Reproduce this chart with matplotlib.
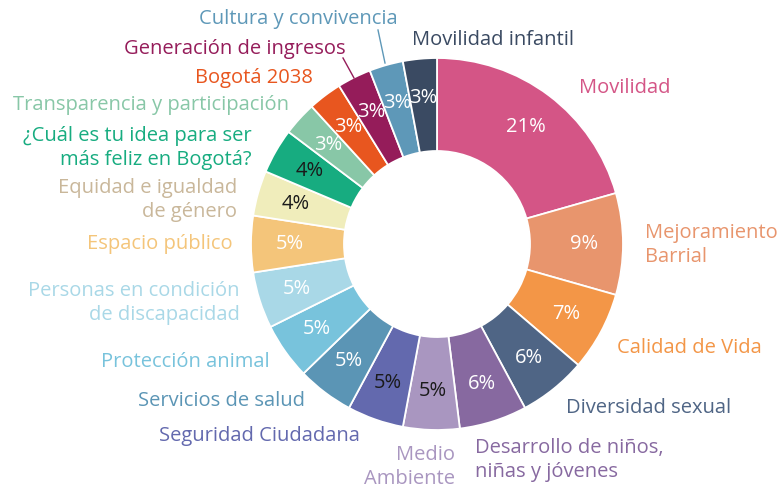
import numpy as np
import matplotlib.pyplot as plt

plt.rcParams['font.family'] = ['Open Sans', 'DejaVu Sans']

# slices, clockwise from 12 o'clock
categorias = ['Movilidad', 'Mejoramiento\nBarrial', 'Calidad de Vida', 'Diversidad sexual',
              'Desarrollo de niños,\nniñas y jóvenes', 'Medio\nAmbiente', 'Seguridad Ciudadana',
              'Servicios de salud', 'Protección animal', 'Personas en condición\nde discapacidad',
              'Espacio público', 'Equidad e igualdad\nde género',
              '¿Cuál es tu idea para ser\nmás feliz en Bogotá?', 'Transparencia y participación',
              'Bogotá 2038', 'Generación de ingresos', 'Cultura y convivencia', 'Movilidad infantil']
porcentajes = [21, 9, 7, 6, 6, 5, 5, 5, 5, 5, 5, 4, 4, 3, 3, 3, 3, 3]
colores = ['#D45586', '#E8956D', '#F39647', '#4F6585', '#8769A0', '#A996C0', '#6369AE',
           '#5B95B5', '#78C3DC', '#A9D8E7', '#F4C57A', '#F0EDBB', '#17AC80', '#88C7A7',
           '#E8561F', '#951C5A', '#5E98B8', '#3A4A62']
color_texto = ['#D45586', '#E8956D', '#F39647', '#4F6585', '#8769A0', '#A996C0', '#6369AE',
               '#5B95B5', '#78C3DC', '#A9D8E7', '#F4C57A', '#C9B79A', '#17AC80', '#88C7A7',
               '#E8561F', '#951C5A', '#5E98B8', '#3A4A62']
pct_negro = [False] * 5 + [True, True] + [False] * 4 + [True, True] + [False] * 5

# label anchor points in pixel layout (x, y from top), alignment
pos_etiquetas = [(579, 88, 'left'), (645, 245, 'left'), (617, 348, 'left'), (566, 408, 'left'),
                 (475, 460, 'left'), (455, 467, 'right'), (360, 436, 'right'),
                 (305, 401, 'right'), (270, 362, 'right'), (240, 303, 'right'),
                 (233, 244, 'right'), (237, 200, 'right'), (252, 148, 'right'),
                 (289, 105, 'right'), (313, 78, 'right'), (346, 49, 'right'),
                 (398, 19, 'right'), (412, 40, 'left')]

W, H = 782, 490
fig = plt.figure(figsize=(W / 100, H / 100), dpi=100)
ax = fig.add_axes([0, 0, 1, 1])

cx, cy, R = 437, H - 244, 186
wedges, _, autotexts = ax.pie(porcentajes, colors=colores, startangle=90, counterclock=False,
                              center=(cx, cy), radius=R, autopct='%.0f%%', pctdistance=0.79,
                              wedgeprops=dict(width=R * 0.5, edgecolor='white', linewidth=1.3),
                              textprops=dict(fontsize=14.5))
for t, negro in zip(autotexts, pct_negro):
    t.set_color('#1a1a1a' if negro else 'white')

ax.set_xlim(0, W)
ax.set_ylim(0, H)
ax.set_aspect('equal')
ax.axis('off')

for lab, (x, y, ha), c in zip(categorias, pos_etiquetas, color_texto):
    ax.text(x, H - y, lab, ha=ha, va='center', color=c, fontsize=14.5,
            multialignment=ha, linespacing=1.3)

# leader lines
ax.plot([378, 385], [H - 30, H - 63], color='#5E98B8', lw=1)
ax.plot([343, 354], [H - 58, H - 78], color='#951C5A', lw=1)

fig.savefig('out.png', dpi=100)
